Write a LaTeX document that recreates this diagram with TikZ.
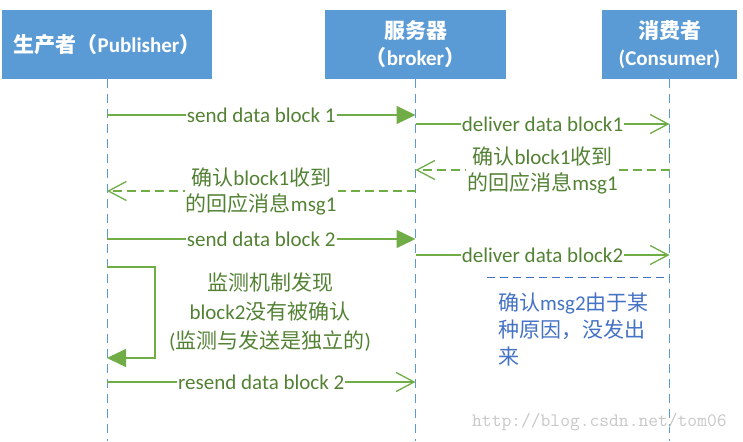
\documentclass[tikz,border=0pt]{standalone}
\usepackage{fontspec}
\setmainfont{Carlito}
\newfontfamily\cjk{Noto Sans CJK SC}
\usetikzlibrary{arrows.meta}
\definecolor{boxblue}{RGB}{91,155,213}
\definecolor{linegreen}{RGB}{112,173,71}
\definecolor{textgreen}{RGB}{84,130,53}
\definecolor{noteblue}{RGB}{68,114,196}
\newcommand{\zh}[1]{{\cjk #1}}
\begin{document}
\begin{tikzpicture}[x=1pt,y=-1pt,
    actor/.style={fill=boxblue,text=white,align=center,inner sep=0pt,
        minimum height=69pt,font=\fontsize{21}{27}\selectfont\bfseries},
    lifeline/.style={boxblue,line width=1pt,dash pattern=on 9pt off 6pt},
    msg/.style={linegreen,line width=1.3pt},
    sendarr/.style={msg,-{Triangle[length=19pt,width=18pt]}},
    openarr/.style={msg,-{Straight Barb[length=18pt,width=19pt]}},
    ackarr/.style={openarr,dash pattern=on 9pt off 5pt},
    lbl/.style={fill=white,text=textgreen,inner xsep=1pt,inner ysep=0pt,
        align=center,font=\fontsize{21}{26}\selectfont}]
    \useasboundingbox (0,0) rectangle (743,441);
    % Draw the three boxes
    \node[actor,minimum width=210pt] (pub) at (107,44.5) {\zh{生产者（}Publisher\zh{）}};
    \node[actor,minimum width=181pt] (brk) at (415.5,44.5) {\zh{服务器}\\\zh{（}broker\zh{）}};
    \node[actor,minimum width=135pt] (con) at (669.5,44.5) {\zh{消费者}\\(Consumer)};
    % Draw lifelines
    \foreach \a in {pub,brk,con}
        \draw[lifeline] (\a.south) -- (\a.south |- 0,441);
    % Points on the lifelines
    \coordinate (p1) at (pub.south |- 0,115);
    \coordinate (b1) at (brk.south |- 0,115);
    \coordinate (b2) at (brk.south |- 0,124);
    \coordinate (c2) at (con.south |- 0,124);
    \coordinate (c3) at (con.south |- 0,170);
    \coordinate (b3) at (brk.south |- 0,170);
    \coordinate (b4) at (brk.south |- 0,191);
    \coordinate (p4) at (pub.south |- 0,191);
    \coordinate (p5) at (pub.south |- 0,239);
    \coordinate (b5) at (brk.south |- 0,239);
    \coordinate (b6) at (brk.south |- 0,255);
    \coordinate (c6) at (con.south |- 0,255);
    \coordinate (lost) at (487,277);
    \coordinate (c7) at (con.south |- 0,277);
    \coordinate (p8) at (pub.south |- 0,267);
    \coordinate (p9) at (pub.south |- 0,358);
    \coordinate (p10) at (pub.south |- 0,382);
    \coordinate (b10) at (brk.south |- 0,382);
    % First block
    \draw[sendarr] (p1) -- node[lbl] {send data block 1} (b1);
    \draw[openarr] (b2) -- node[lbl] {deliver data block1} (c2);
    \draw[ackarr] (c3) -- node[lbl] {\zh{确认}block1\zh{收到}\\\zh{的回应消息}msg1} (b3);
    \draw[ackarr] (b4) -- node[lbl] {\zh{确认}block1\zh{收到}\\\zh{的回应消息}msg1} (p4);
    % Second block
    \draw[sendarr] (p5) -- node[lbl] {send data block 2} (b5);
    \draw[openarr] (b6) -- node[lbl] {deliver data block2} (c6);
    \draw[noteblue,line width=1pt,dash pattern=on 8pt off 5pt] (lost) -- (c7);
    \node[text=noteblue,anchor=west,align=left,inner sep=0pt,
        font=\fontsize{21}{27}\selectfont] (note) at (498,329)
        {\zh{确认}msg2\zh{由于某}\\\zh{种原因，没发出}\\\zh{来}};
    % Timeout loop
    \draw[sendarr] (p8) -- ++(48,0) |- (p9);
    \node[lbl,fill=none,font=\fontsize{21}{29}\selectfont] (looptxt) at (270,312)
        {\zh{监测机制发现}\\block2\zh{没有被确认}\\(\zh{监测与发送是独立的})};
    \draw[openarr] (p10) -- node[lbl] {resend data block 2} (b10);
    % Watermark
    \node[text=black!22,anchor=west,inner sep=0pt,
        font=\ttfamily\fontsize{19}{22}\selectfont] (mark) at (472,422)
        {http://blog.csdn.net/tom06};
\end{tikzpicture}
\end{document}
